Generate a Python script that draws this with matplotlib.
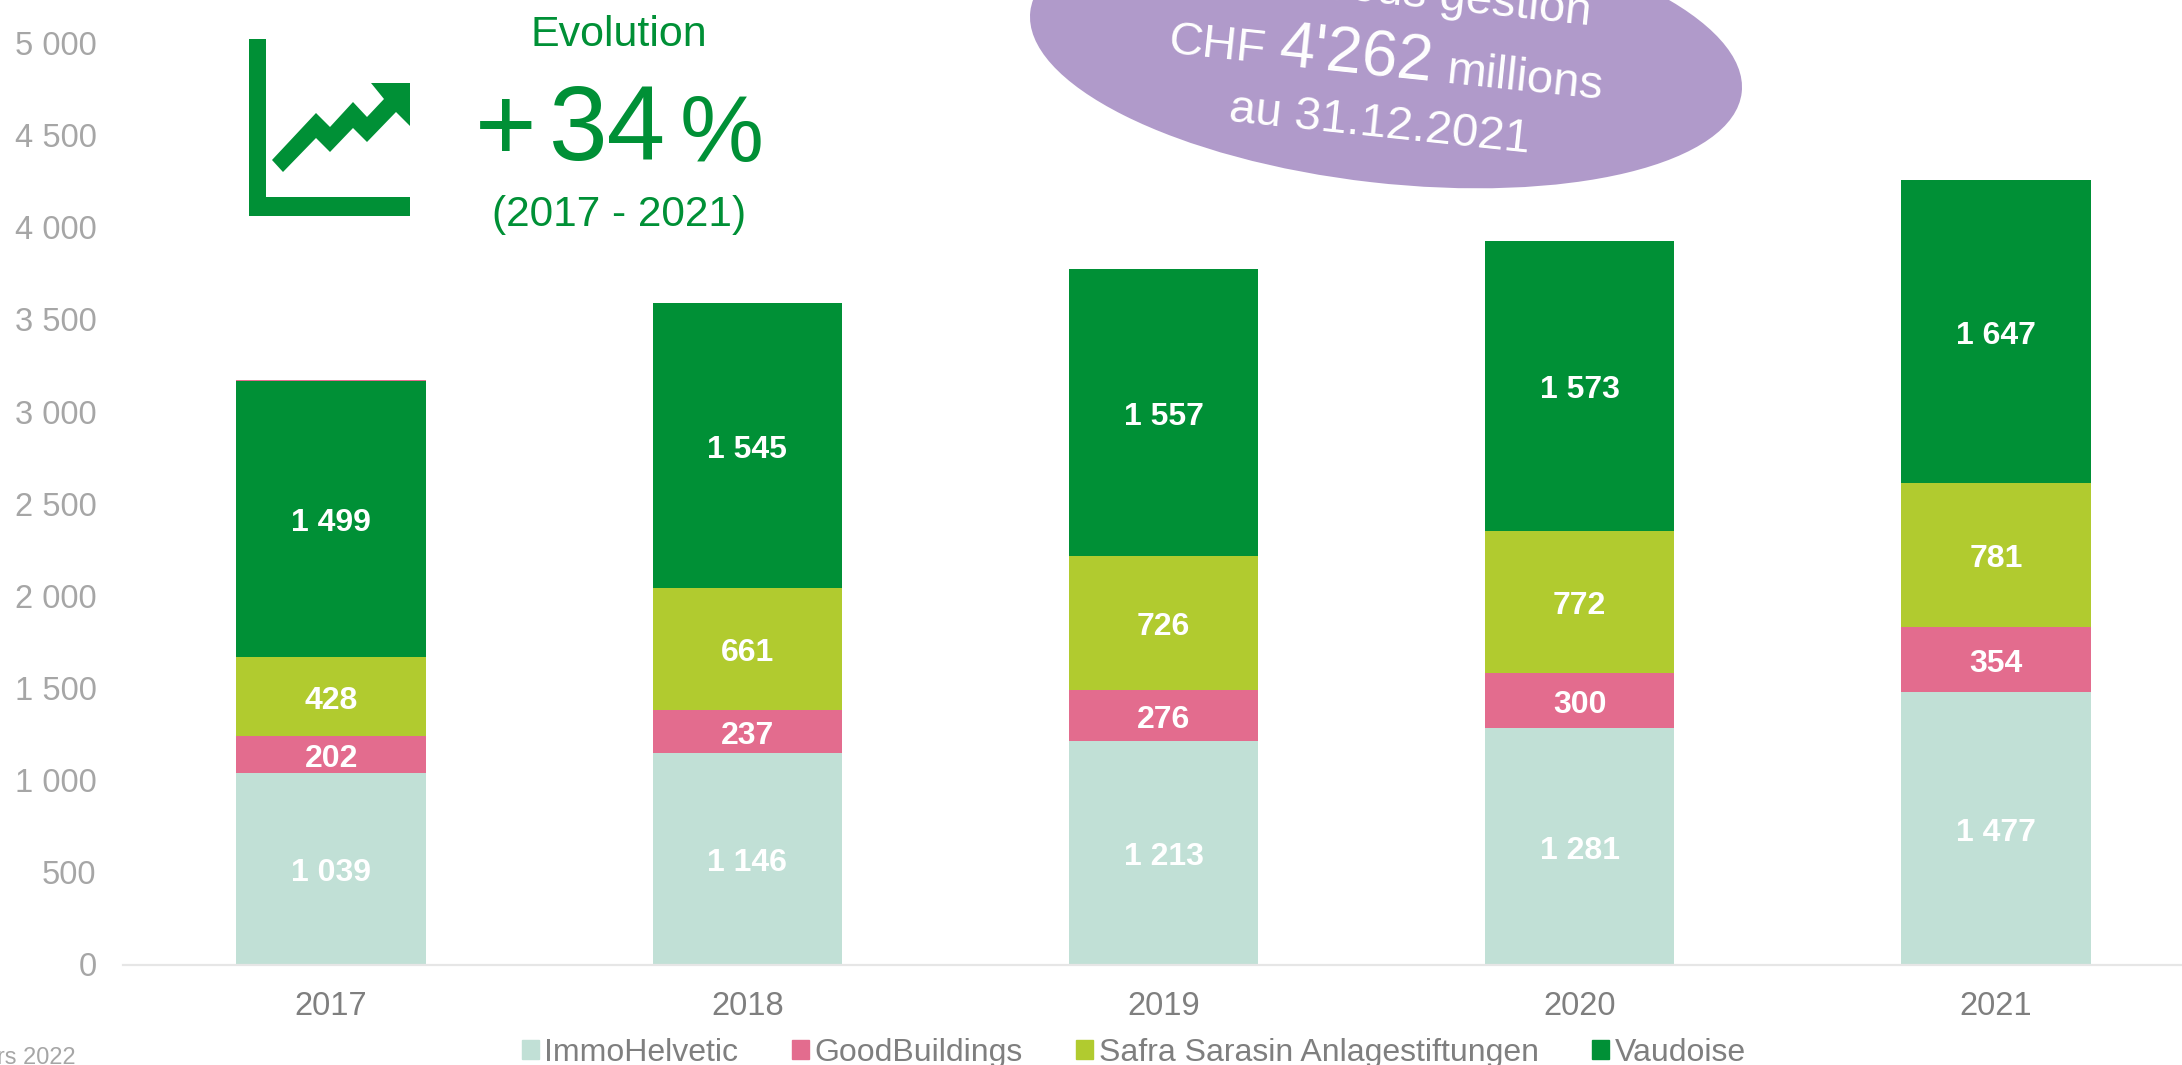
import matplotlib
matplotlib.use("Agg")
import matplotlib.pyplot as plt
from matplotlib.patches import Ellipse, Patch, Polygon, Rectangle

plt.rcParams["font.family"] = ["Liberation Sans", "DejaVu Sans"]

years = ["2017", "2018", "2019", "2020", "2021"]
immohelvetic = [1039, 1146, 1213, 1281, 1477]
goodbuildings = [202, 237, 276, 300, 354]
safra = [428, 661, 726, 772, 781]
vaudoise = [1499, 1545, 1557, 1573, 1647]
# thin line sitting on top of the 2017 bar
top_line = [5, 0, 0, 0, 0]

names = ["ImmoHelvetic", "GoodBuildings", "Safra Sarasin Anlagestiftungen", "Vaudoise"]
series = [immohelvetic, goodbuildings, safra, vaudoise]
colors = ["#C1E0D6", "#E36C8E", "#B1CB2F", "#009036"]
yticks = [0, 500, 1000, 1500, 2000, 2500, 3000, 3500, 4000, 4500, 5000]

W, H = 2182, 1065
GREEN = "#009036"


def spaced(v):
    # thousands with a space, like 1 039
    return f"{v:,}".replace(",", " ")


fig = plt.figure(figsize=(W / 100, H / 100), dpi=100)
ax = fig.add_axes([123 / W, 1 - 964.5 / H, (2204 - 123) / W, (964.5 - 43) / H])

bottom = [0, 0, 0, 0, 0]
for name, values, color in zip(names, series, colors):
    bars = ax.bar(years, values, width=0.455, bottom=bottom, color=color, label=name)
    labels = ax.bar_label(bars, labels=[spaced(v) for v in values], label_type="center",
                          color="white", fontweight="bold", fontsize=23)
    # labels sit a little under the middle of each segment
    for lab in labels:
        lab.xyann = (0, -3)
    bottom = [b + v for b, v in zip(bottom, values)]
ax.bar(years, top_line, width=0.455, bottom=bottom, color=colors[1])

ax.set_xlim(-0.5, 4.5)
ax.set_ylim(0, 5000)
ax.set_yticks(yticks, [spaced(v) for v in yticks])
ax.tick_params(axis="y", length=0, pad=19, labelsize=23.5, labelcolor="#A6A6A6")
ax.tick_params(axis="x", length=0, pad=19, labelsize=23.5, labelcolor="#7F7F7F")
for side in ["top", "left", "right"]:
    ax.spines[side].set_visible(False)
ax.spines["bottom"].set_color("#E6E6E6")
ax.spines["bottom"].set_linewidth(1.6)

handles = [Patch(color=c, label=n) for c, n in zip(colors, names)]
fig.legend(handles=handles, loc="center", bbox_to_anchor=(1134 / W, 1 - 1053 / H), ncol=4,
           frameon=False, fontsize=23, labelcolor="#7F7F7F", handlelength=0.53,
           handleheight=0.53, handletextpad=0.17, columnspacing=1.68, borderpad=0)

# overlay in pixel coordinates for the icon, the callouts and the footnote
over = fig.add_axes([0, 0, 1, 1])
over.set_xlim(0, W)
over.set_ylim(H, 0)
over.axis("off")
over.patch.set_alpha(0)

over.add_patch(Ellipse((1386, 52), 716, 262, angle=6.5, color="#B09ACA", lw=0))
rot = -6
over.text(1590, 25, "Fortune sous gestion", color="white", fontsize=34, rotation=rot,
          rotation_mode="anchor", ha="right", va="baseline")
over.text(1168, 53, "CHF", color="white", fontsize=34, rotation=rot,
          rotation_mode="anchor", ha="left", va="baseline")
over.text(1278, 66, "4'262", color="white", fontsize=46, rotation=rot,
          rotation_mode="anchor", ha="left", va="baseline")
over.text(1446, 83, "millions", color="white", fontsize=34, rotation=rot,
          rotation_mode="anchor", ha="left", va="baseline")
over.text(1228, 121, "au 31.12.2021", color="white", fontsize=34, rotation=rot,
          rotation_mode="anchor", ha="left", va="baseline")

# icon
over.add_patch(Rectangle((249, 39), 17, 177, color=GREEN, lw=0))
over.add_patch(Rectangle((249, 197), 161, 19, color=GREEN, lw=0))
arrow_x = [272, 316, 330, 353, 367, 384, 371, 410, 410, 396, 367, 353, 330, 316, 283]
arrow_y = [160, 113, 127, 102, 117, 99, 83, 83, 126, 112, 142, 128, 152, 138, 172]
over.add_patch(Polygon(list(zip(arrow_x, arrow_y)), closed=True, color=GREEN, lw=0))

over.text(619, 46, "Evolution", color=GREEN, fontsize=31, ha="center", va="baseline")
over.text(475, 160, "+", color=GREEN, fontsize=76, ha="left", va="baseline")
over.text(549, 160, "34", color=GREEN, fontsize=76, ha="left", va="baseline")
over.text(680, 161, "%", color=GREEN, fontsize=68, ha="left", va="baseline")
over.text(619, 226, "(2017 - 2021)", color=GREEN, fontsize=30.5, ha="center", va="baseline")

over.text(76, 1064, "Mars 2022", color="#A6A6A6", fontsize=17, ha="right", va="baseline")

fig.savefig("out.png", dpi=100)
